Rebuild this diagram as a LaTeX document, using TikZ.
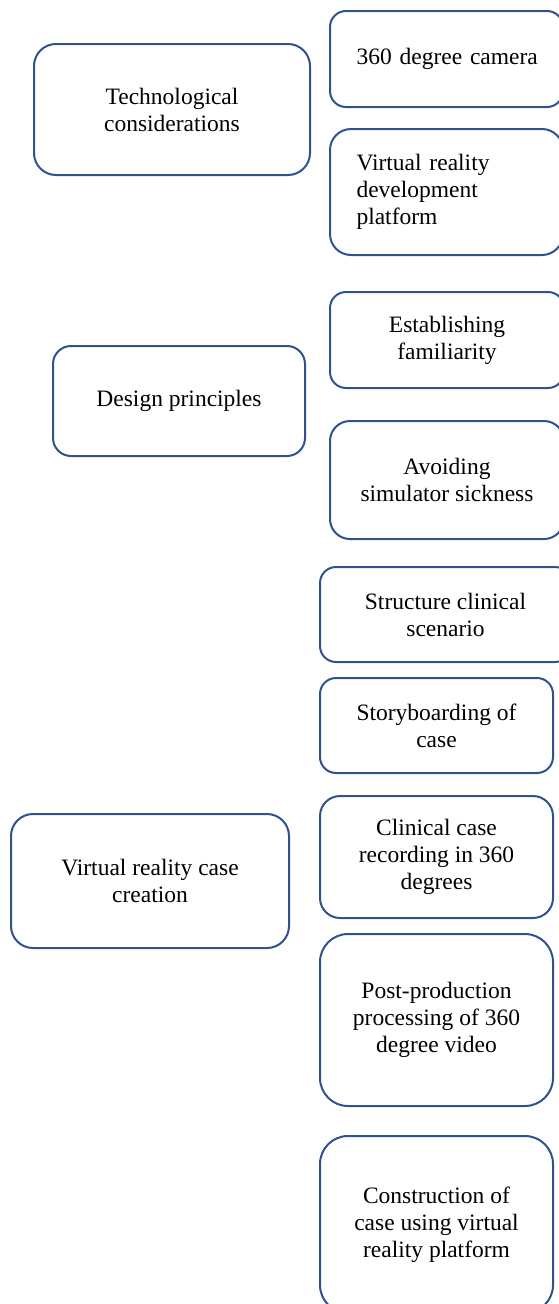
\documentclass[tikz,border=0pt]{standalone}
\usepackage{fontspec}
\setmainfont{Liberation Serif}
\definecolor{boxblue}{RGB}{47,82,143}
\begin{document}
\begin{tikzpicture}[x=1pt,y=-1pt,
  card/.style={draw=boxblue, line width=2pt, anchor=north west,
    inner sep=0pt, align=center, font=\fontsize{23.5}{27}\selectfont},
  leftcard/.style={card, align=left, inner xsep=26.5pt, text width=180pt}]
\useasboundingbox (0,0) rectangle (559,1304);

% Technological considerations
\node[card, minimum width=276pt, minimum height=131pt, rounded corners=22pt]
  (tech) at (33,43) {Technological\\considerations};
\node[leftcard, minimum width=233pt, minimum height=96pt, rounded corners=16pt]
  (camera) at (329,10) {\mbox{360 degree camera}};
\node[leftcard, minimum width=233pt, minimum height=126pt, rounded corners=21pt]
  (platform) at (329,128) {Virtual reality\\development\\platform};

% Design principles
\node[card, minimum width=252pt, minimum height=110pt, rounded corners=18pt]
  (design) at (52,345) {Design principles};
\node[card, minimum width=234pt, minimum height=96pt, rounded corners=16pt]
  (familiar) at (329,291) {Establishing\\familiarity};
\node[card, minimum width=234pt, minimum height=118pt, rounded corners=20pt]
  (sickness) at (329,420) {Avoiding\\simulator sickness};

% Virtual reality case creation
\node[card, minimum width=278pt, minimum height=134pt, rounded corners=22pt]
  (creation) at (10,813) {Virtual reality case\\creation};
\node[card, minimum width=251pt, minimum height=95pt, rounded corners=16pt]
  (structure) at (319,566) {Structure clinical\\scenario};
\node[card, minimum width=233pt, minimum height=95pt, rounded corners=16pt]
  (story) at (319,677) {Storyboarding of\\case};
\node[card, minimum width=233pt, minimum height=122pt, rounded corners=20pt]
  (recording) at (319,795) {Clinical case\\recording in 360\\degrees};
\node[card, minimum width=233pt, minimum height=172pt, rounded corners=28pt]
  (post) at (319,933) {Post-production\\processing of 360\\degree video};
\node[card, minimum width=233pt, minimum height=177pt, rounded corners=28pt]
  (construct) at (319,1135) {Construction of\\case using virtual\\reality platform};
\end{tikzpicture}
\end{document}
